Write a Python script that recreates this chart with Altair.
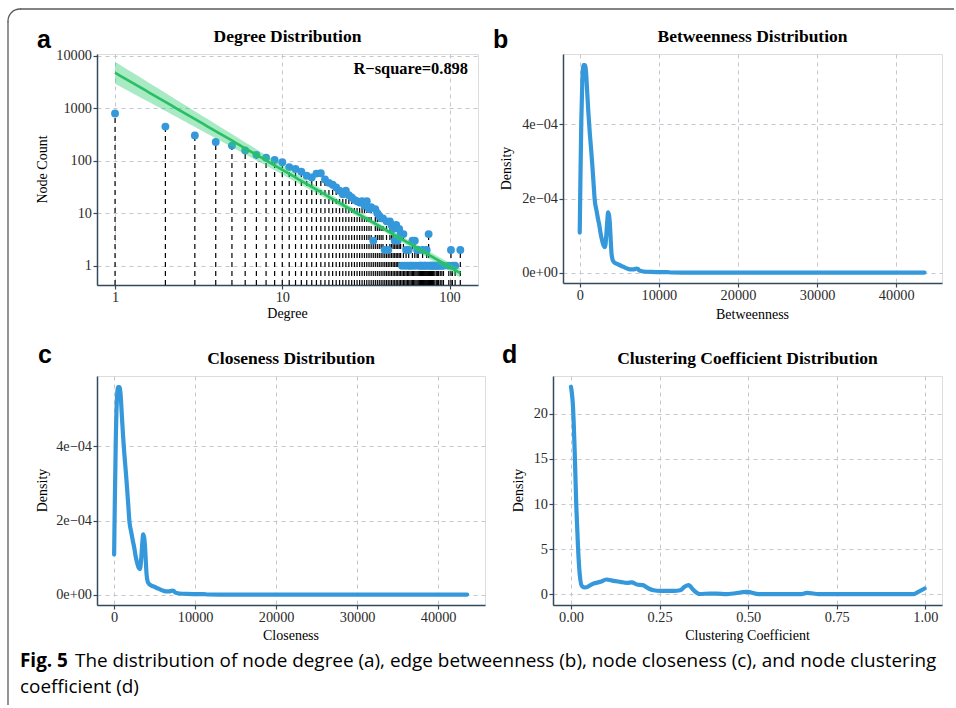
import numpy as np
import pandas as pd
import altair as alt

# ------------------------------------------------------------------ data
degree = [1, 2, 3, 4, 5, 6, 7, 8, 9, 10, 11, 12, 13, 14, 15, 16, 17, 18, 19, 20,
          21, 22, 23, 24, 25, 26, 27, 28, 29, 30, 31, 32, 33, 34, 35, 36, 37, 38, 39, 40,
          41, 42, 43, 44, 45, 46, 47, 48, 49, 50, 51, 52, 53, 54, 55, 56, 57, 58, 59, 60,
          61, 62, 63, 64, 65, 66, 67, 68, 69, 70, 71, 72, 73, 74, 75, 76, 77, 78, 79, 80,
          81, 83, 84, 85, 86, 88, 90, 92, 99, 102, 104, 108, 116]
node_count = [800, 450, 305, 228, 195, 158, 130, 115, 104, 94, 76, 70, 62, 52, 48, 57, 58, 44, 38, 35,
              31, 27, 23, 27, 22, 20, 18, 17, 16, 17, 14, 17, 12, 13, 3, 12, 10, 9, 8, 8,
              2, 7, 2, 7, 6, 5, 3, 6, 3, 5, 4, 1, 4, 1, 2, 1, 2, 1, 1, 3,
              1, 3, 1, 2, 2, 1, 1, 1, 2, 1, 1, 1, 2, 1, 4, 1, 1, 1, 1, 1,
              1, 1, 1, 1, 1, 1, 1, 1, 1, 2, 1, 1, 2]

betweenness_x = [0, 80, 200, 330, 480, 650, 800, 950, 1100, 1270, 1450, 1600, 1750, 1900,
                 2100, 2320, 2500, 2620, 2850, 3040, 3200, 3380, 3500, 3590, 3700, 3800,
                 3900, 4010, 4150, 4300, 4850, 5480, 6000, 6330, 6800, 7170, 7350, 7510,
                 8020, 9000, 9700, 11000, 11600, 13000, 15000, 20000, 30000, 40000, 43580]
betweenness_density = [1.08e-4, 2.4e-4, 4.1e-4, 5.2e-4, 5.6e-4, 5.6e-4, 5.4e-4, 4.85e-4,
                       4.3e-4, 3.77e-4, 3.3e-4, 2.87e-4, 2.4e-4, 1.95e-4, 1.7e-4, 1.44e-4,
                       1.25e-4, 1.08e-4, 0.85e-4, 0.72e-4, 0.69e-4, 1.08e-4, 1.45e-4,
                       1.63e-4, 1.55e-4, 1.35e-4, 0.95e-4, 0.54e-4, 0.35e-4, 0.29e-4,
                       0.22e-4, 0.16e-4, 0.11e-4, 0.09e-4, 0.09e-4, 0.11e-4, 0.10e-4,
                       0.06e-4, 0.03e-4, 0.018e-4, 0.016e-4, 0.015e-4, 0.004e-4, 0.001e-4,
                       0.0005e-4, 0.0003e-4, 0.0002e-4, 0.0002e-4, 0.0002e-4]

closeness_x = list(betweenness_x)
closeness_density = list(betweenness_density)

clustering_x = [0.0, 0.0056, 0.0103, 0.015, 0.0197, 0.0244, 0.031, 0.040, 0.064, 0.083,
                0.0996, 0.12, 0.139, 0.158, 0.172, 0.186, 0.203, 0.219, 0.233, 0.252,
                0.290, 0.308, 0.32, 0.332, 0.346, 0.363, 0.393, 0.41, 0.44, 0.497, 0.53,
                0.65, 0.666, 0.70, 0.80, 0.90, 0.967, 0.98, 0.998]
clustering_density = [23.0, 20.8, 16.0, 9.7, 5.3, 2.3, 0.89, 0.74, 1.19, 1.37,
                      1.63, 1.48, 1.37, 1.26, 1.3, 1.07, 1.0, 0.63, 0.44, 0.37,
                      0.37, 0.44, 0.81, 1.0, 0.44, 0.02, 0.07, 0.07, 0.01, 0.26, 0.01,
                      0.01, 0.15, 0.01, 0.01, 0.01, 0.01, 0.26, 0.63]

deg_ticks = [1, 10, 100]
count_ticks = [1, 10, 100, 1000, 10000]
betw_ticks = [0, 10000, 20000, 30000, 40000]
dens_ticks = [0, 0.0002, 0.0004]
clust_ticks = [0, 0.25, 0.5, 0.75, 1.0]
clust_dens_ticks = [0, 5, 10, 15, 20]

caption_line1 = "The distribution of node degree (a), edge betweenness (b), node closeness (c), and node clustering"
caption_line2 = "coefficient (d)"

# ------------------------------------------------------------------ style
BLUE = "#3498db"
GREEN = "#2ecc71"
AXIS_C = "#34495e"
GRID_C = "#c3c8ce"
FRAME_C = "#5a5a5a"
SERIF = "Liberation Serif"
SANS = "Liberation Sans"
CAP_FONT = "Open Sans"

TITLE_SIZE = 17.5
LABEL_SIZE = 14.3
AXTITLE_SIZE = 14
CAP_SIZE = 18.9

COUNT_MIN = 0.428
COUNT_MAX = 10900

A_W, A_H = 381, 231
B_W, B_H = 379, 229
C_W, C_H = 388, 229
D_W, D_H = 389, 229

one = alt.Data(values=[{}])


def ax(values, fmt=None, expr=None):
    kw = dict(values=values, title=None, grid=True, gridDash=[4, 4], gridColor=GRID_C,
              gridWidth=1, domainColor=AXIS_C, domainWidth=1.5, tickColor=AXIS_C,
              tickWidth=1.2, tickSize=4, labelFont=SERIF, labelFontSize=LABEL_SIZE,
              labelColor="#2b2b2b", labelPadding=1.5)
    if fmt:
        kw["format"] = fmt
    if expr:
        kw["labelExpr"] = expr
    return alt.Axis(**kw)


def txt(s, x, y, size, font=SERIF, weight="normal", align="center", angle=0,
        baseline="alphabetic"):
    return alt.Chart(one).mark_text(
        text=s, font=font, fontSize=size, fontWeight=weight, align=align,
        baseline=baseline, angle=angle, color="black"
    ).encode(x=alt.value(x), y=alt.value(y))


# ------------------------------------------------------------------ panel a
df_deg = pd.DataFrame({"degree": degree, "count": node_count})
df_deg["base"] = COUNT_MIN

lx = np.log10(np.array(degree, float))
ly = np.log10(np.array(node_count, float))
n = len(lx)
xbar, ybar = lx.mean(), ly.mean()
sxx = ((lx - xbar) ** 2).sum()
b1 = ((lx - xbar) * (ly - ybar)).sum() / sxx
b0 = ybar - b1 * xbar
s = np.sqrt(((ly - (b0 + b1 * lx)) ** 2).sum() / (n - 2))
gx = np.linspace(lx.min(), lx.max(), 80)
fit = b0 + b1 * gx
se = s * np.sqrt(1.0 / n + (gx - xbar) ** 2 / sxx)
df_fit = pd.DataFrame({"degree": 10 ** gx, "fit": 10 ** fit,
                       "lo": 10 ** (fit - 1.99 * se), "hi": 10 ** (fit + 1.99 * se)})

xs_a = alt.Scale(type="log", domain=[0.78, 148], nice=False)
ys_a = alt.Scale(type="log", domain=[COUNT_MIN, COUNT_MAX], nice=False)
X_a = alt.X("degree:Q", scale=xs_a, axis=ax(deg_ticks, "d"))

rules = alt.Chart(df_deg).mark_rule(color="black", strokeWidth=1.2, strokeDash=[5, 4]).encode(
    x=X_a, y=alt.Y("base:Q", scale=ys_a, axis=ax(count_ticks, "d")), y2="count:Q")
points = alt.Chart(df_deg).mark_circle(size=62, color=BLUE, opacity=1).encode(
    x=X_a, y=alt.Y("count:Q", scale=ys_a, axis=ax(count_ticks, "d")))
band = alt.Chart(df_fit).mark_area(color=GREEN, opacity=0.42).encode(
    x=X_a, y=alt.Y("lo:Q", scale=ys_a, axis=ax(count_ticks, "d")), y2="hi:Q")
fitline = alt.Chart(df_fit).mark_line(color="#29bf63", strokeWidth=2.6).encode(
    x=X_a, y=alt.Y("fit:Q", scale=ys_a, axis=ax(count_ticks, "d")))

# frame around the figure (drawn from panel a)
frame_top = alt.Chart(one).mark_rule(color=FRAME_C, strokeWidth=1.3).encode(
    x=alt.value(-77), x2=alt.value(857), y=alt.value(-45))
frame_left = alt.Chart(one).mark_rule(color=FRAME_C, strokeWidth=1.3).encode(
    x=alt.value(-89), y=alt.value(-33), y2=alt.value(651))
frame_arc = alt.Chart(one).mark_arc(radius=12, radius2=11.99, theta=4.712389, theta2=6.283185,
                                    stroke=FRAME_C, strokeWidth=1.3, fillOpacity=0).encode(
    x=alt.value(-77), y=alt.value(-33))

panel_a = alt.layer(
    frame_top, frame_left, frame_arc, rules, points, band, fitline,
    txt("a", -60, -6, 25, font=SANS, weight="bold", align="left"),
    txt("Degree Distribution", A_W / 2, -12, TITLE_SIZE, weight="bold"),
    txt("R\u2212square=0.898", 371, 20, 16.4, weight="bold", align="right"),
    txt("Node Count", -54.5, A_H / 2, AXTITLE_SIZE, angle=270, baseline="middle"),
    txt("Degree", A_W / 2, 263.5, AXTITLE_SIZE),
).properties(width=A_W, height=A_H)

# ------------------------------------------------------------------ density panels
DENS_EXPR = "datum.value == 0 ? '0e+00' : format(datum.value * 10000, 'd') + 'e\u221204'"


def density_panel(xv, yv, xdom, ydom, xticks, xfmt, yticks, yfmt, yexpr):
    df = pd.DataFrame({"x": xv, "y": yv})
    return alt.Chart(df).mark_line(color=BLUE, strokeWidth=4.2, interpolate="monotone",
                                   strokeCap="round", strokeJoin="round").encode(
        x=alt.X("x:Q", scale=alt.Scale(domain=xdom, nice=False, zero=False),
                axis=ax(xticks, xfmt)),
        y=alt.Y("y:Q", scale=alt.Scale(domain=ydom, nice=False, zero=False),
                axis=ax(yticks, yfmt, yexpr)),
    )


b_line = density_panel(betweenness_x, betweenness_density, [-2114, 45784], [-2.8e-5, 5.9e-4],
                       betw_ticks, "d", dens_ticks, None, DENS_EXPR)
panel_b = alt.layer(
    b_line,
    txt("b", -70, -6, 25, font=SANS, weight="bold", align="left"),
    txt("Betweenness Distribution", B_W / 2, -12, TITLE_SIZE, weight="bold"),
    txt("Density", -56, B_H / 2, AXTITLE_SIZE, angle=270, baseline="middle"),
    txt("Betweenness", B_W / 2, 265, AXTITLE_SIZE),
).properties(width=B_W, height=B_H)

c_line = density_panel(closeness_x, closeness_density, [-2114, 45784], [-2.8e-5, 5.9e-4],
                       betw_ticks, "d", dens_ticks, None, DENS_EXPR)
panel_c = alt.layer(
    c_line,
    txt("c", -59, -13, 25, font=SANS, weight="bold", align="left"),
    txt("Closeness Distribution", C_W / 2, -12, TITLE_SIZE, weight="bold"),
    txt("Density", -54.5, C_H / 2, AXTITLE_SIZE, angle=270, baseline="middle"),
    txt("Closeness", C_W / 2, 264, AXTITLE_SIZE),
    txt("Fig. 5", -77, 291, CAP_SIZE, font=CAP_FONT, weight="bold", align="left"),
    txt(caption_line1, -22, 291, CAP_SIZE, font=CAP_FONT, align="left"),
    txt(caption_line2, -77, 317, CAP_SIZE, font=CAP_FONT, align="left"),
).properties(width=C_W, height=C_H)

d_line = density_panel(clustering_x, clustering_density, [-0.0508, 1.047], [-1.2, 24.2],
                       clust_ticks, ".2f", clust_dens_ticks, "d", None)
panel_d = alt.layer(
    d_line,
    txt("d", -51, -13, 25, font=SANS, weight="bold", align="left"),
    txt("Clustering Coefficient Distribution", D_W / 2, -12, TITLE_SIZE, weight="bold"),
    txt("Density", -34.5, D_H / 2, AXTITLE_SIZE, angle=270, baseline="middle"),
    txt("Clustering Coefficient", D_W / 2, 264, AXTITLE_SIZE),
).properties(width=D_W, height=D_H)

row1 = alt.hconcat(panel_a, panel_b, spacing=85, bounds="flush")
row2 = alt.hconcat(panel_c, panel_d, spacing=68, bounds="flush")

chart = alt.vconcat(row1, row2, spacing=322, bounds="flush").properties(
    padding={"left": 4, "top": 5, "right": 0, "bottom": 0}
).configure_view(stroke=None).configure(background="white")

chart.save("out.html", embed_options={"renderer": "svg", "actions": False})
